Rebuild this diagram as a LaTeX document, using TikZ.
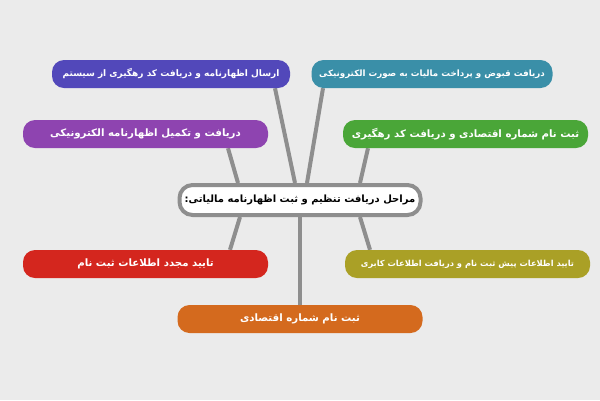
\documentclass[tikz,border=0pt]{standalone}
\usepackage{fontspec}
\newfontfamily\arabicfont[Script=Arabic]{DejaVu Sans}
\TeXXeTstate=1
\usetikzlibrary{positioning, backgrounds}
\definecolor{page_grey}{RGB}{235,235,235}
\definecolor{link_grey}{RGB}{142,142,142}
\definecolor{indigo_box}{RGB}{82,72,186}
\definecolor{teal_box}{RGB}{58,143,168}
\definecolor{purple_box}{RGB}{142,68,176}
\definecolor{green_box}{RGB}{74,166,56}
\definecolor{red_box}{RGB}{212,38,30}
\definecolor{olive_box}{RGB}{170,160,38}
\definecolor{orange_box}{RGB}{212,106,30}

\tikzset{
    stage/.style={rectangle, rounded corners=12pt, minimum width=245pt, minimum height=28pt, inner sep=0pt, text=white, font=\arabicfont\bfseries\fontsize{10.2}{12}\selectfont},
    small stage/.style={stage, font=\arabicfont\bfseries\fontsize{#1}{11}\selectfont},
    link/.style={draw=link_grey, line width=4pt},
}

\begin{document}
\begin{tikzpicture}[x=1pt, y=-1pt]

    \useasboundingbox (0,0) rectangle (600,400);

    % --- Begin Title Node ---
			\node [draw=link_grey, line width=4pt, fill=white, rounded corners=13pt, minimum width=241pt, minimum height=30pt, inner sep=0pt, font=\arabicfont\bfseries\fontsize{10}{12}\selectfont] (Steps) at (300,200) {\beginR مراحل دریافت تنظیم و ثبت اظهارنامه مالیاتی:\endR};
			% --- End Title Node ---

			% --- Begin Upper Nodes ---
			\node [small stage=9, fill=indigo_box, minimum width=238pt] (SendReturn) at (171,74) {\beginR ارسال اظهارنامه و دریافت کد رهگیری از سیستم\endR};
			\node [small stage=8.7, fill=teal_box, minimum width=241pt] (PayTax) at (432,74) {\beginR دریافت قبوض و پرداخت مالیات به صورت الکترونیکی\endR};
			\node [stage, fill=purple_box] (FillReturn) at (145.5,134) {\beginR دریافت و تکمیل اظهارنامه الکترونیکی\endR};
			\node [stage, fill=green_box] (TrackCode) at (465.5,134) {\beginR ثبت نام شماره اقتصادی و دریافت کد رهگیری\endR};
			% --- End Upper Nodes ---

			% --- Begin Lower Nodes ---
			\node [stage, fill=red_box] (Reconfirm) at (145.5,264) {\beginR تایید مجدد اطلاعات ثبت نام\endR};
			\node [small stage=8.3, fill=olive_box] (PreRegister) at (467.5,264) {\beginR تایید اطلاعات پیش ثبت نام و دریافت اطلاعات کابری\endR};
			\node [stage, fill=orange_box] (EconomicCode) at (300,319) {\beginR ثبت نام شماره اقتصادی\endR};
			% --- End Lower Nodes ---

			% Connect the nodes behind the boxes.
			\begin{scope}[on background layer]
				\fill [page_grey] (0,0) rectangle (600,400);
				\draw [link] ([xshift=104pt]SendReturn.south) -- ([xshift=-5pt]Steps.north);
				\draw [link] ([xshift=-109pt]PayTax.south) -- ([xshift=7pt]Steps.north);
				\draw [link] ([xshift=82.5pt]FillReturn.south) -- ([xshift=-62pt]Steps.north);
				\draw [link] ([xshift=-97.5pt]TrackCode.south) -- ([xshift=60pt]Steps.north);
				\draw [link] ([xshift=-60pt]Steps.south) -- ([xshift=84.5pt]Reconfirm.north);
				\draw [link] (Steps.south) -- (EconomicCode.north);
				\draw [link] ([xshift=60pt]Steps.south) -- ([xshift=-97.5pt]PreRegister.north);
			\end{scope}

  \end{tikzpicture}
\end{document}
